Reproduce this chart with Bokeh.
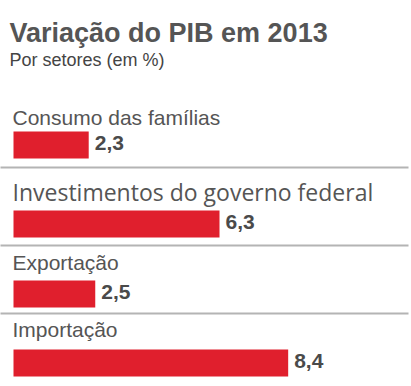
from bokeh.plotting import figure
from bokeh.models import Range1d, ColumnDataSource
from bokeh.core.properties import value
from bokeh.embed import file_html
from bokeh.resources import INLINE

# ---- data ----
title_text = "Variação do PIB em 2013"
subtitle_text = "Por setores (em %)"
categories = ["Consumo das famílias", "Investimentos do governo federal", "Exportação", "Importação"]
values = [2.3, 6.3, 2.5, 8.4]
value_labels = ["2,3", "6,3", "2,5", "8,4"]

# ---- layout (plot pixel coordinates, y grows downward) ----
W, H = 411, 386
PX_PER_UNIT = 32.7
X0 = 13  # left edge of bars in px
TXT = 0.38  # text baseline correction (em)
label_sizes = [21, 23, 21, 21]
label_fonts = ["Liberation Sans", "Open Sans", "Liberation Sans", "Liberation Sans"]
row_tops = [89, 167, 245, 313]
label_offsets = [36, 33, 25, 24]
bar_offsets = [42, 43, 35, 36]
BAR_H = 27

p = figure(width=W, height=H, output_backend="svg", toolbar_location=None,
           x_range=Range1d(-X0 / PX_PER_UNIT, (W - X0) / PX_PER_UNIT),
           y_range=Range1d(H, 0), min_border=0)
p.axis.visible = False
p.grid.visible = False
p.outline_line_color = None
p.background_fill_color = "white"
p.border_fill_color = "white"

lbl_y = [t + o - TXT * s for t, o, s in zip(row_tops, label_offsets, label_sizes)]
bar_top = [t + o for t, o in zip(row_tops, bar_offsets)]
bar_bot = [b + BAR_H for b in bar_top]

src = ColumnDataSource(dict(cat=categories, val=values, vlab=value_labels,
                            top=bar_top, bottom=bar_bot, lbl_y=lbl_y,
                            vy=[b - 8 - TXT * 21 for b in bar_bot],
                            vx=[v + 6 / PX_PER_UNIT for v in values],
                            size=[f"{s}px" for s in label_sizes],
                            font=label_fonts))

# separators
for t in row_tops[1:]:
    p.line(x=[-1, (408 - X0) / PX_PER_UNIT], y=[t, t], line_color="#b4b4b4", line_width=2)

p.quad(left=0, right="val", top="top", bottom="bottom", source=src,
       fill_color="#e01f2d", line_color=None)

p.text(x=-1 / PX_PER_UNIT, y="lbl_y", text="cat", source=src, text_font="font",
       text_font_size="size", text_color="#555555", text_baseline="alphabetic")

p.text(x="vx", y="vy", text="vlab", source=src, text_font=value("Liberation Sans"),
       text_font_size="21px", text_font_style="bold", text_color="#4a4a4a",
       text_baseline="alphabetic")

x_left = -4 / PX_PER_UNIT
p.text(x=[x_left], y=[43 - TXT * 27], text=[title_text], text_font=value("Liberation Sans"),
       text_font_size="27px", text_font_style="bold", text_color="#555555",
       text_baseline="alphabetic")
p.text(x=[x_left], y=[66 - TXT * 18], text=[subtitle_text], text_font=value("Liberation Sans"),
       text_font_size="18px", text_color="#444444", text_baseline="alphabetic")

open("out.html", "w").write(file_html(p, INLINE))
